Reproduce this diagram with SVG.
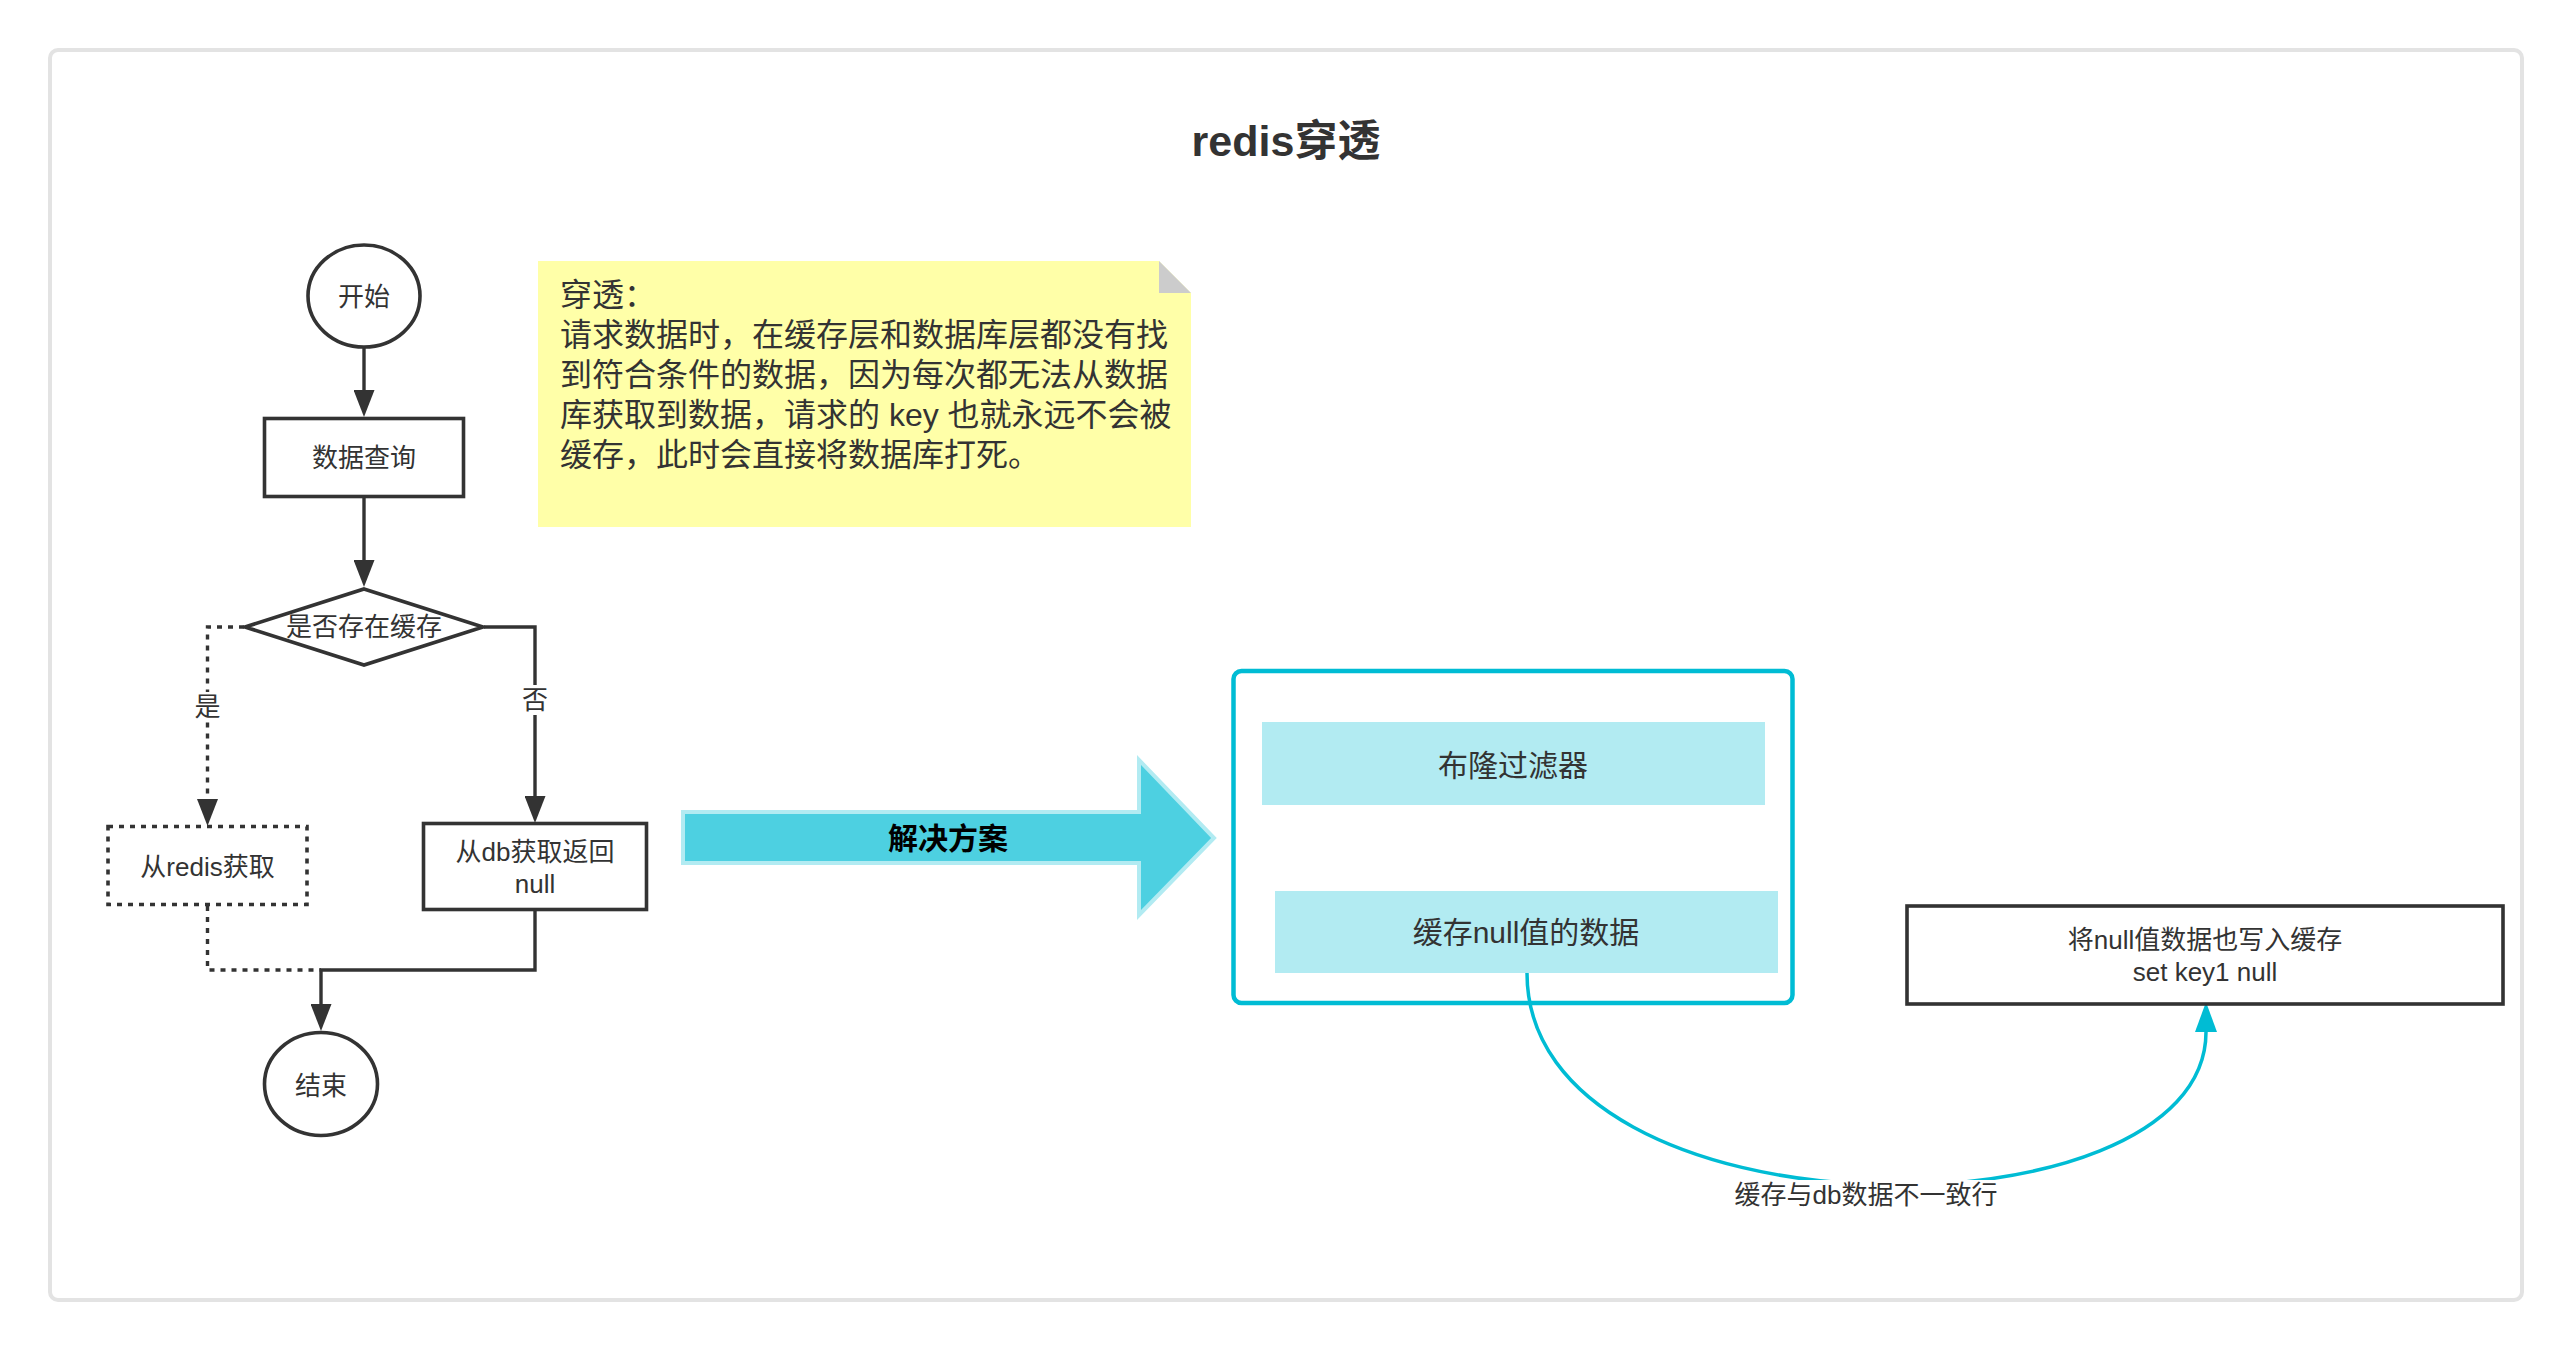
<svg xmlns="http://www.w3.org/2000/svg" width="2572" height="1352" viewBox="0 0 2572 1352">
  <style>
    text { font-family: "Liberation Sans", "Noto Sans CJK SC", sans-serif; fill: #333333; dominant-baseline: central; }
    .c { text-anchor: middle; }
    .t26 { font-size: 26px; }
    .t30 { font-size: 30px; }
    .shape { fill: #ffffff; stroke: #333333; stroke-width: 3.6; }
    .dot { stroke-dasharray: 5 6; }
    .line { fill: none; stroke: #333333; stroke-width: 3.4; }
    .cyanbox { fill: #b2ebf2; }
    .lbl { fill: #ffffff; }
  </style>
  <defs>
    <marker id="arr" markerUnits="userSpaceOnUse" viewBox="0 0 27 21" markerWidth="27" markerHeight="21" refX="0" refY="10.5" orient="auto">
      <path d="M0,0 L27,10.5 L0,21 Z" fill="#333333"/>
    </marker>
    <marker id="arrc" markerUnits="userSpaceOnUse" viewBox="0 0 30 22" markerWidth="30" markerHeight="22" refX="0" refY="11" orient="auto">
      <path d="M0,0 L30,11 L0,22 Z" fill="#00bcd4"/>
    </marker>
  </defs>

  <rect id="frame" x="50" y="50" width="2472" height="1250" rx="8" fill="#ffffff" stroke="#e3e3e3" stroke-width="4"/>

  <g id="title">
    <text class="c" x="1286" y="141" font-size="43" font-weight="bold">redis穿透</text>
  </g>

  <g id="note">
    <polygon points="538,261 1159,261 1191,293 1191,527 538,527" fill="#ffffa8"/>
    <polygon points="1159,261 1159,293 1191,293" fill="#cccccc"/>
    <text x="560" y="295" font-size="32">穿透：</text>
    <text x="560" y="335" font-size="32">请求数据时，在缓存层和数据库层都没有找</text>
    <text x="560" y="375" font-size="32">到符合条件的数据，因为每次都无法从数据</text>
    <text x="560" y="415" font-size="32">库获取到数据，请求的 key 也就永远不会被</text>
    <text x="560" y="455" font-size="32">缓存，此时会直接将数据库打死。</text>
  </g>

  <g id="connectors">
    <path class="line" d="M364,348 L364,390" marker-end="url(#arr)"/>
    <path class="line" d="M364,498 L364,560" marker-end="url(#arr)"/>
    <path class="line" d="M484,627 L535,627 L535,796" marker-end="url(#arr)"/>
    <path class="line dot" d="M244,627 L207.5,627 L207.5,799" marker-end="url(#arr)"/>
    <path class="line dot" d="M207.5,906 L207.5,970 L321,970"/>
    <path class="line" d="M535,911 L535,970 L321,970 L321,1004" marker-end="url(#arr)"/>
    <path d="M1527,973 C1527,1245 2206,1245 2206,1032" fill="none" stroke="#00bcd4" stroke-width="3.5" marker-end="url(#arrc)"/>
    <g id="label-yes">
      <rect class="lbl" x="193" y="692" width="29" height="30"/>
      <text class="c t26" x="207.5" y="707">是</text>
    </g>
    <g id="label-no">
      <rect class="lbl" x="521" y="685" width="29" height="30"/>
      <text class="c t26" x="535" y="700">否</text>
    </g>
    <g id="label-inconsistent">
      <rect class="lbl" x="1736" y="1180" width="262" height="32"/>
      <text class="c t26" x="1866" y="1195">缓存与db数据不一致行</text>
    </g>
  </g>

  <g id="start">
    <ellipse class="shape" cx="364" cy="296" rx="56" ry="51"/>
    <text class="c t26" x="364" y="297">开始</text>
  </g>

  <g id="query">
    <rect class="shape" x="264.5" y="418.5" width="199" height="78"/>
    <text class="c t26" x="364" y="458">数据查询</text>
  </g>

  <g id="decision">
    <polygon class="shape" points="364,589 483,627 364,665 245,627"/>
    <text class="c t26" x="364" y="627">是否存在缓存</text>
  </g>

  <g id="from-redis">
    <rect class="shape dot" x="108" y="826.5" width="199" height="78"/>
    <text class="c t26" x="207.5" y="867">从redis获取</text>
  </g>

  <g id="from-db">
    <rect class="shape" x="423.5" y="823.5" width="223" height="86"/>
    <text class="c t26" x="535" y="852">从db获取返回</text>
    <text class="c t26" x="535" y="884">null</text>
  </g>

  <g id="end">
    <ellipse class="shape" cx="321" cy="1084" rx="56.5" ry="51.5"/>
    <text class="c t26" x="321" y="1086">结束</text>
  </g>

  <g id="solution-arrow">
    <polygon points="683,812 1139,812 1139,760 1214,838 1139,915 1139,863 683,863" fill="#4dd0e1" stroke="#b2ebf2" stroke-width="4"/>
    <text class="c" x="948" y="838" font-size="30" font-weight="bold" style="fill:#000000">解决方案</text>
  </g>

  <g id="solutions">
    <rect x="1233.5" y="671" width="559" height="332" rx="8" fill="none" stroke="#00bcd4" stroke-width="4.5"/>
  </g>

  <g id="bloom">
    <rect class="cyanbox" x="1262" y="722" width="503" height="83"/>
    <text class="c t30" x="1513" y="765">布隆过滤器</text>
  </g>

  <g id="cache-null">
    <rect class="cyanbox" x="1275" y="891" width="503" height="82"/>
    <text class="c t30" x="1526" y="932">缓存null值的数据</text>
  </g>

  <g id="write-null">
    <rect class="shape" x="1907" y="906" width="596" height="98" stroke-width="4"/>
    <text class="c t26" x="2205" y="940">将null值数据也写入缓存</text>
    <text class="c t26" x="2205" y="972">set key1 null</text>
  </g>
</svg>
